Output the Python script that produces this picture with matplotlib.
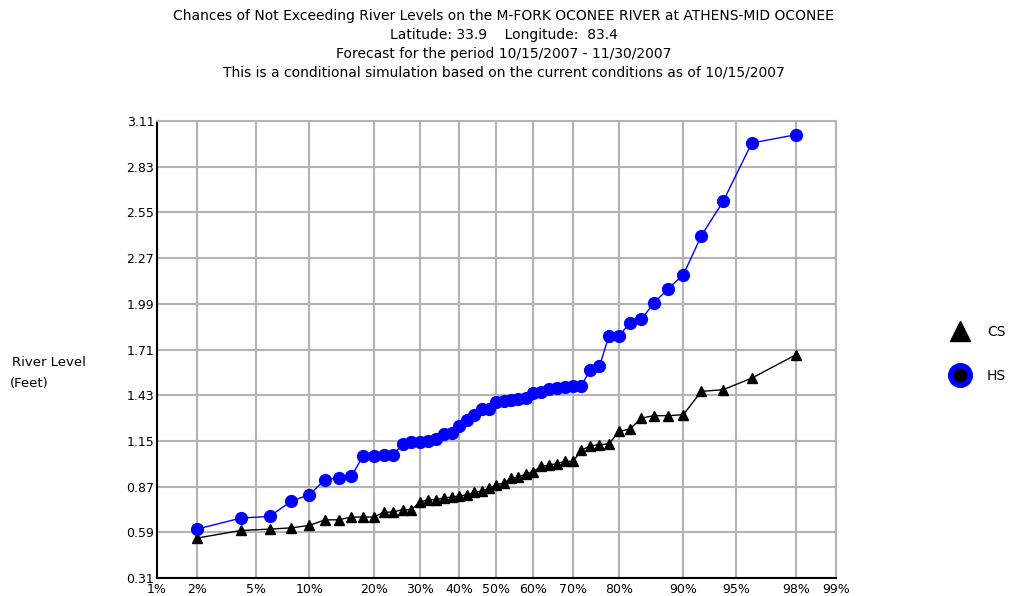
from statistics import NormalDist
import numpy as np
import matplotlib
matplotlib.use("Agg")
from matplotlib import pyplot as plt
from matplotlib.lines import Line2D

# non-exceedance probabilities (plotting positions)
prob = [i / 50 for i in range(1, 50)]

cs = [0.555, 0.602, 0.610, 0.618, 0.633, 0.667, 0.667, 0.684, 0.684, 0.684,
      0.712, 0.716, 0.729, 0.729, 0.776, 0.790, 0.790, 0.802, 0.806, 0.814,
      0.819, 0.835, 0.843, 0.859, 0.882, 0.892, 0.923, 0.927, 0.949, 0.962,
      0.994, 1.002, 1.011, 1.025, 1.025, 1.092, 1.121, 1.127, 1.133, 1.209,
      1.223, 1.290, 1.305, 1.305, 1.311, 1.454, 1.464, 1.535, 1.678]

hs = [0.610, 0.678, 0.688, 0.782, 0.821, 0.913, 0.923, 0.933, 1.056, 1.056,
      1.064, 1.064, 1.133, 1.141, 1.145, 1.151, 1.162, 1.192, 1.198, 1.243,
      1.276, 1.311, 1.346, 1.346, 1.386, 1.393, 1.403, 1.407, 1.413, 1.444,
      1.448, 1.468, 1.475, 1.480, 1.485, 1.488, 1.586, 1.607, 1.795, 1.795,
      1.872, 1.897, 1.995, 2.081, 2.168, 2.407, 2.618, 2.975, 3.026]

x_ticks = [0.01, 0.02, 0.05, 0.10, 0.20, 0.30, 0.40, 0.50, 0.60, 0.70,
           0.80, 0.90, 0.95, 0.98, 0.99]
x_labels = ["1%", "2%", "5%", "10%", "20%", "30%", "40%", "50%", "60%",
            "70%", "80%", "90%", "95%", "98%", "99%"]
y_ticks = [0.31, 0.59, 0.87, 1.15, 1.43, 1.71, 1.99, 2.27, 2.55, 2.83, 3.11]

title_lines = [
    "Chances of Not Exceeding River Levels on the M-FORK OCONEE RIVER at ATHENS-MID OCONEE",
    "Latitude: 33.9    Longitude:  83.4",
    "Forecast for the period 10/15/2007 - 11/30/2007",
    "This is a conditional simulation based on the current conditions as of 10/15/2007",
]

nd = NormalDist()
fwd = np.vectorize(lambda p: nd.inv_cdf(min(max(p, 1e-6), 1 - 1e-6)), otypes=[float])
inv = np.vectorize(lambda z: nd.cdf(z), otypes=[float])

plt.rcParams['font.family'] = ['DejaVu Sans']
fig = plt.figure(figsize=(10.13, 5.96), dpi=100)
ax = fig.add_axes([0.155, 0.030, 0.670, 0.767])
ax.set_xscale('function', functions=(fwd, inv))

ax.plot(prob, cs, color='black', lw=1, marker='^', ms=7, zorder=3)
ax.plot(prob, hs, color='blue', lw=1, marker='o', ms=8.5, zorder=3)

ax.set_xlim(0.01, 0.99)
ax.set_ylim(0.31, 3.11)
ax.set_xticks(x_ticks)
ax.set_xticklabels(x_labels)
ax.xaxis.set_minor_locator(matplotlib.ticker.NullLocator())
ax.set_yticks(y_ticks)
ax.set_yticklabels(["%.2f" % v for v in y_ticks])
ax.tick_params(length=0, labelsize=9)
ax.tick_params(axis='x', pad=3.5)
ax.tick_params(axis='y', pad=2)
ax.grid(True, color='#b4b4b4', lw=1.5)
ax.set_axisbelow(True)
for s in ['top', 'right']:
    ax.spines[s].set_color('#b4b4b4')
    ax.spines[s].set_linewidth(1.5)
for s in ['left', 'bottom']:
    ax.spines[s].set_linewidth(1.5)

for i, line in enumerate(title_lines):
    fig.text(0.497, 1 - (16 + 19 * i) / 596, line, ha='center', va='center', fontsize=10)

fig.text(0.012, 1 - 363 / 596, "River Level", ha='left', va='center', fontsize=9.5)
fig.text(0.010, 1 - 384 / 596, "(Feet)", ha='left', va='center', fontsize=9.5)

handles = [
    Line2D([], [], ls='none', marker='^', ms=14, color='black'),
    Line2D([], [], ls='none', marker='o', ms=14, mfc='black', mec='blue', mew=4),
]
fig.legend(handles, ["CS", "HS"], loc='center left', bbox_to_anchor=(0.922, 1 - 354 / 596),
           frameon=False, fontsize=10, handletextpad=0.9, labelspacing=2.2)

fig.savefig("out.png", dpi=100)
